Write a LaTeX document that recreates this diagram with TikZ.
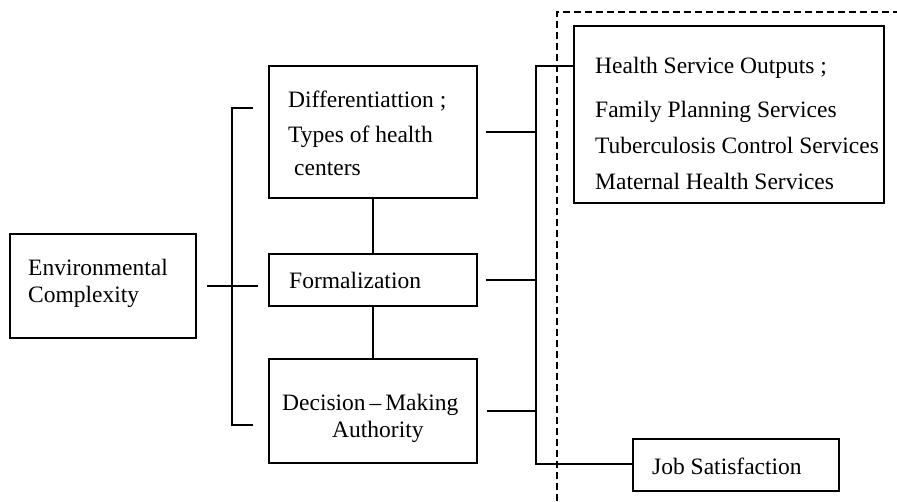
\documentclass[tikz,border=0pt]{standalone}
\usepackage{fontspec}
\setmainfont{Liberation Serif}
\begin{document}
\begin{tikzpicture}[x=1pt,y=-1pt,
  box/.style={draw,line width=1.5pt,rectangle,inner sep=0pt,anchor=north west},
  conn/.style={line width=1.5pt},
  lbl/.style={anchor=base west,inner sep=0pt,font=\fontsize{23.5}{27}\selectfont}]
\useasboundingbox (0,0) rectangle (897,501);
% boxes
\node[box,minimum width=186pt,minimum height=104pt] (env) at (9,233) {};
\node[box,minimum width=208pt,minimum height=132pt] (diff) at (268,65) {};
\node[box,minimum width=208pt,minimum height=52pt] (form) at (268,253) {};
\node[box,minimum width=208pt,minimum height=104pt] (dec) at (268,358) {};
\node[box,minimum width=310pt,minimum height=177pt] (hs) at (573,25) {};
\node[box,minimum width=206pt,minimum height=52pt] (job) at (632,438) {};
% texts
\node[lbl] (t1) at (28,275) {Environmental};
\node[lbl] (t2) at (28,302) {Complexity};
\node[lbl] (t3) at (288,107) {Differentiattion ;};
\node[lbl] (t4) at (288,142) {Types of health};
\node[lbl] (t5) at (294,175) {centers};
\node[lbl] (t6) at (289,288) {Formalization};
\node[lbl] (t7) at (282,410) {Decision\,--\,Making};
\node[lbl] (t8) at (332,437) {Authority};
\node[lbl] (t9) at (595,73) {Health Service Outputs ;};
\node[lbl] (t10) at (595,117) {Family Planning Services};
\node[lbl] (t11) at (595,153) {Tuberculosis Control Services};
\node[lbl] (t12) at (595,189) {Maternal Health Services};
\node[lbl] (t13) at (652,474) {Job Satisfaction};
% bracket
\coordinate (bt) at (232,108);
\coordinate (bb) at (232,425);
\draw[conn] (bt -| 253,0) -- (bt) -- (bb) -- (bb -| 253,0);
\draw[conn,shorten <=10pt,shorten >=10pt] (env.east) -- (env.east -| form.west);
% vertical links
\draw[conn] (diff.south) -- (diff.south |- form.north);
\draw[conn] (form.south) -- (form.south |- dec.north);
% right bus
\coordinate (rt) at (536,66);
\coordinate (rb) at (536,464);
\draw[conn] (rt -| hs.west) -- (rt) -- (rb) -- (rb -| job.west);
\draw[conn,shorten <=8pt] (diff.east) -- (diff.east -| rt);
\draw[conn,shorten <=8pt] (form.east) -- (form.east -| rt);
\draw[conn,shorten <=9pt] (dec.east) -- (dec.east -| rt);
% dashed boundary
\draw[line width=1.3pt,dash pattern=on 7pt off 4pt] (557,501) -- (557,12) -- (897,12);
\end{tikzpicture}
\end{document}
